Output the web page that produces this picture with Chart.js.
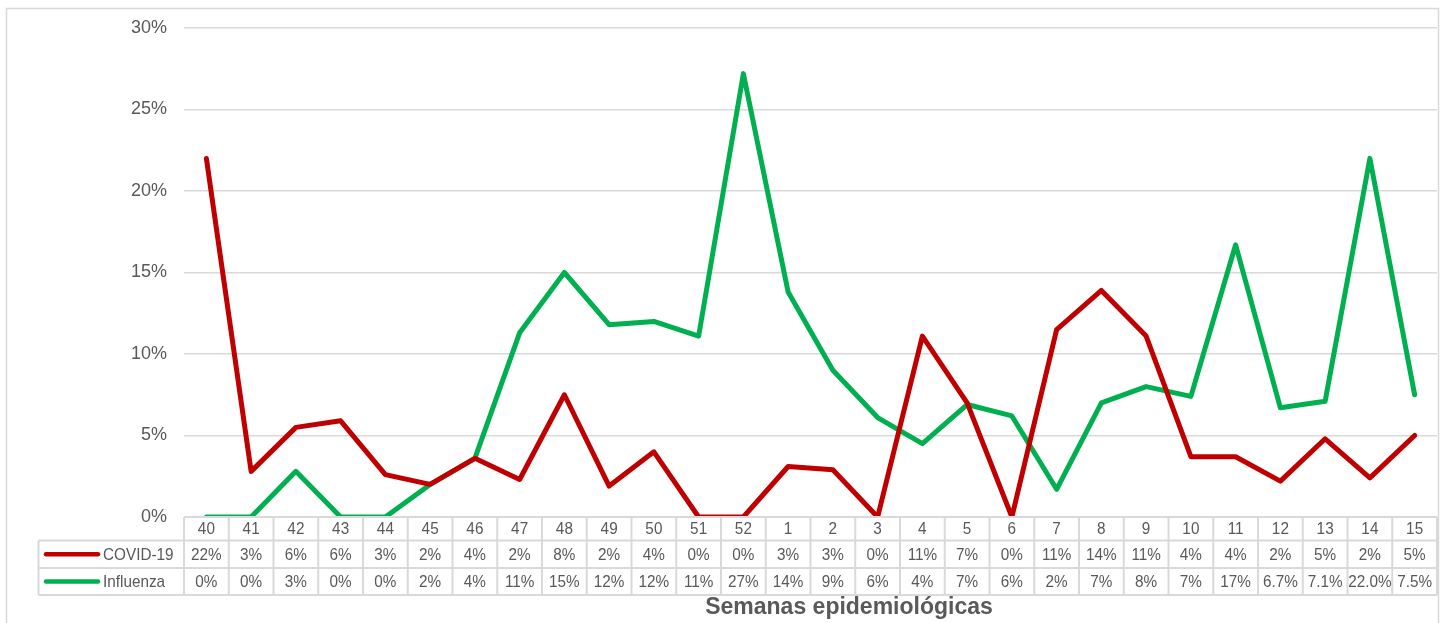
<!DOCTYPE html>
<html>
<head>
<meta charset="utf-8">
<script src="https://cdn.jsdelivr.net/npm/chart.js@4/dist/chart.umd.min.js"></script>
<style>
html,body{margin:0;padding:0;background:#fff;}
#wrap{width:1449px;height:623px;position:relative;}
</style>
</head>
<body>
<div id="wrap"><canvas id="c" width="1449" height="623"></canvas></div>
<script>
const weeks = ['40','41','42','43','44','45','46','47','48','49','50','51','52','1','2','3','4','5','6','7','8','9','10','11','12','13','14','15'];
const covid = [22.0,2.8,5.5,5.9,2.6,2.0,3.6,2.3,7.5,1.9,4.0,0,0,3.1,2.9,0,11.1,7.0,0,11.5,13.9,11.1,3.7,3.7,2.2,4.8,2.4,5.0];
const influenza = [0,0,2.8,0,0,2.0,3.6,11.3,15.0,11.8,12.0,11.1,27.2,13.8,9.0,6.1,4.5,6.9,6.2,1.7,7.0,8.0,7.4,16.7,6.7,7.1,22.0,7.5];
const covidLabels = ['22%','3%','6%','6%','3%','2%','4%','2%','8%','2%','4%','0%','0%','3%','3%','0%','11%','7%','0%','11%','14%','11%','4%','4%','2%','5%','2%','5%'];
const fluLabels = ['0%','0%','3%','0%','0%','2%','4%','11%','15%','12%','12%','11%','27%','14%','9%','6%','4%','7%','6%','2%','7%','8%','7%','17%','6.7%','7.1%','22.0%','7.5%'];
const seriesNames = ['COVID-19','Influenza'];
const seriesColors = ['#C00000','#00B050'];
const axisTitle = 'Semanas epidemiológicas';

const GRID = '#d9d9d9';
const TXT = '#595959';

function squishText(ctx, text, x, y, sx){
  ctx.save();
  ctx.translate(x, y);
  ctx.scale(sx, 1);
  ctx.fillText(text, 0, 0);
  ctx.restore();
}

const tablePlugin = {
  id: 'dataTable',
  beforeDraw(chart){
    const ctx = chart.ctx;
    ctx.save();
    ctx.strokeStyle = GRID;
    ctx.lineWidth = 1.5;
    ctx.beginPath();
    ctx.moveTo(6.5, 623); ctx.lineTo(6.5, 8.5); ctx.lineTo(1438.5, 8.5); ctx.lineTo(1438.5, 623);
    ctx.stroke();
    ctx.restore();
  },
  afterDraw(chart){
    const ctx = chart.ctx;
    const xs = chart.scales.x;
    const area = chart.chartArea;
    const n = weeks.length;
    const cw = (area.right - area.left) / n;
    const top = area.bottom;
    const r1 = 540.5, r2 = 568, r3 = 595;
    const legL = 38.5;
    ctx.save();
    ctx.strokeStyle = GRID;
    ctx.lineWidth = 2;
    ctx.beginPath();
    ctx.moveTo(area.left, top); ctx.lineTo(area.right, top);
    ctx.moveTo(legL, r1); ctx.lineTo(area.right, r1);
    ctx.moveTo(legL, r2); ctx.lineTo(area.right, r2);
    ctx.moveTo(legL, r3); ctx.lineTo(area.right, r3);
    ctx.moveTo(legL, r1); ctx.lineTo(legL, r3);
    for (let i = 0; i <= n; i++) {
      const x = area.left + i * cw;
      ctx.moveTo(x, top); ctx.lineTo(x, r3);
    }
    ctx.stroke();

    ctx.fillStyle = TXT;
    ctx.textAlign = 'center';
    ctx.textBaseline = 'middle';
    ctx.font = '17px "Liberation Sans", Arial, sans-serif';
    const sx = 0.9;
    for (let i = 0; i < n; i++) {
      const x = xs.getPixelForValue(i);
      squishText(ctx, weeks[i], x, (top + r1) / 2 + 1, sx);
      squishText(ctx, covidLabels[i], x, (r1 + r2) / 2 + 1, sx);
      squishText(ctx, fluLabels[i], x, (r2 + r3) / 2 + 1, sx);
    }
    const rows = [(r1 + r2) / 2, (r2 + r3) / 2];
    for (let k = 0; k < 2; k++) {
      ctx.strokeStyle = seriesColors[k];
      ctx.lineWidth = 4.5;
      ctx.lineCap = 'round';
      ctx.beginPath();
      ctx.moveTo(46, rows[k]); ctx.lineTo(98, rows[k]);
      ctx.stroke();
      ctx.fillStyle = TXT;
      ctx.textAlign = 'left';
      squishText(ctx, seriesNames[k], 103, rows[k] + 1, sx);
    }
    ctx.font = 'bold 23px "Liberation Sans", Arial, sans-serif';
    ctx.textAlign = 'center';
    ctx.fillStyle = TXT;
    ctx.fillText(axisTitle, 849, 608);
    ctx.restore();
  }
};

new Chart(document.getElementById('c'), {
  type: 'line',
  data: {
    labels: weeks,
    datasets: [
      { label: seriesNames[0], data: covid, borderColor: seriesColors[0], backgroundColor: seriesColors[0], borderWidth: 5, pointRadius: 0, tension: 0, borderJoinStyle: 'round', borderCapStyle: 'round' },
      { label: seriesNames[1], data: influenza, borderColor: seriesColors[1], backgroundColor: seriesColors[1], borderWidth: 5, pointRadius: 0, tension: 0, borderJoinStyle: 'round', borderCapStyle: 'round' }
    ]
  },
  options: {
    responsive: false,
    animation: false,
    events: [],
    layout: { padding: { top: 28, bottom: 106, right: 12, left: 0 } },
    plugins: { legend: { display: false }, tooltip: { enabled: false }, title: { display: false } },
    scales: {
      x: { type: 'category', offset: true, display: false },
      y: {
        min: 0, max: 30,
        afterFit(scale){ scale.width = 184; },
        border: { display: false },
        grid: { color: GRID, lineWidth: 1.5, drawTicks: false },
        ticks: { stepSize: 5, padding: 17, color: TXT, font: { family: '"Liberation Sans", Arial, sans-serif', size: 18 }, callback: v => v + '%' }
      }
    }
  },
  plugins: [tablePlugin]
});
</script>
</body>
</html>
